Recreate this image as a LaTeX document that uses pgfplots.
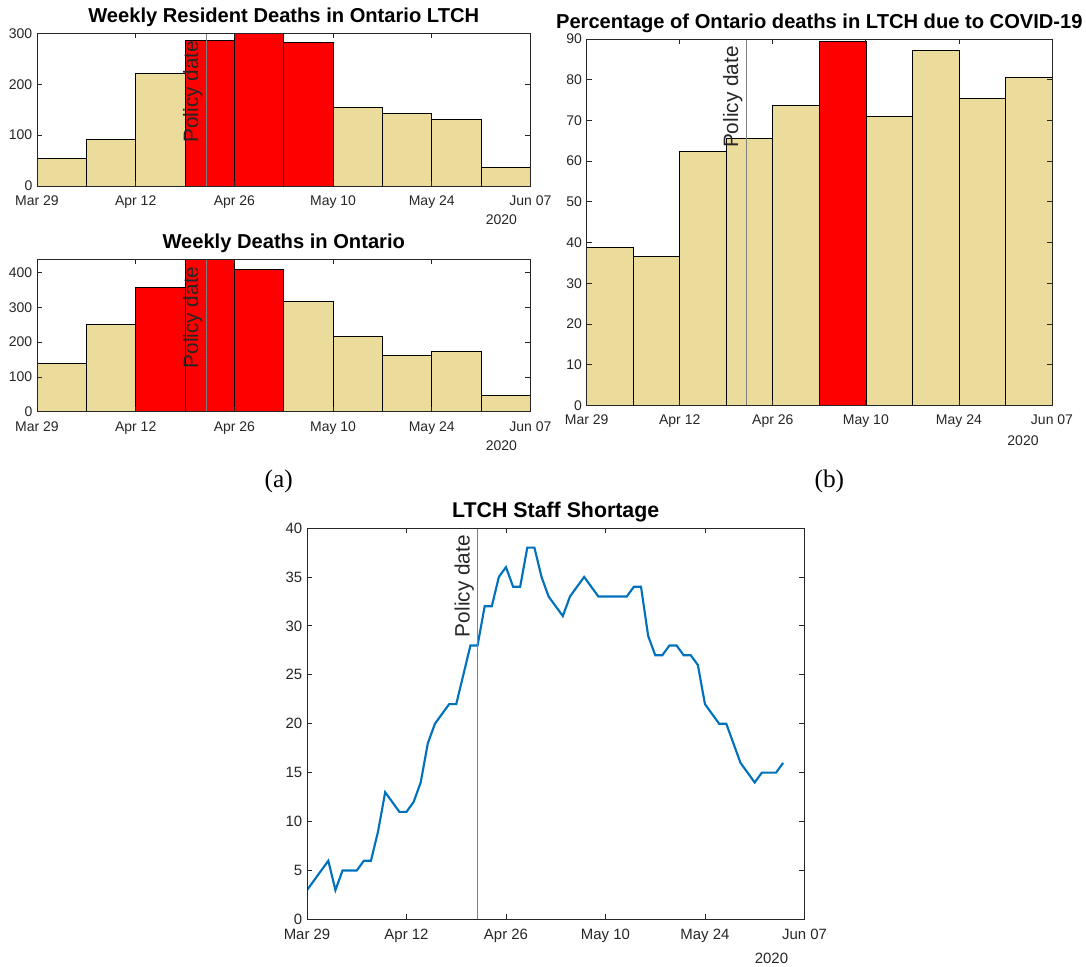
\documentclass[border=0pt]{standalone}
\usepackage{pgfplots}
\pgfplotsset{compat=1.18}
\usepackage{fontspec}
\setmainfont{Liberation Sans}
\newfontfamily\seriffont{Liberation Serif}
\definecolor{tanc}{RGB}{236,220,156}
\definecolor{axc}{RGB}{38,38,38}
\definecolor{mblue}{RGB}{0,114,189}
\definecolor{pgray}{RGB}{128,128,128}
\newcommand{\mybar}[4]{\addplot[fill=#4,draw=black,line width=0.5pt] coordinates {(#1,0) (#1,#3) (#2,#3) (#2,0)} -- cycle;}
\pgfplotsset{
  mstyle/.style={
    scale only axis, axis on top, anchor=south west,
    clip mode=individual,
    xmin=0,xmax=70, ymin=0,
    xtick={0,14,28,42,56,70},
    xticklabels={Mar 29,Apr 12,Apr 26,May 10,May 24,Jun 07},
    tick align=inside,
    major tick length=3.75pt,
    axis line style={axc, line width=0.6pt},
    every tick/.style={axc, line width=0.6pt},
    tick label style={font=\fontsize{10.5}{12}\selectfont, text=axc},
    /pgf/number format/assume math mode=true,
    xticklabel style={yshift=-3.6pt},
    title style={font=\bfseries\fontsize{15.1}{18}\selectfont, at={(0.5,1)}, anchor=base, yshift=2pt},
  },
}
\tikzset{policy/.style={xshift=-6pt, yshift=-5.25pt, font=\fontsize{15.6}{18}\selectfont, text=axc, rotate=90, anchor=base east, inner sep=0pt}}
\begin{document}
\begin{tikzpicture}
\useasboundingbox (0,0) rectangle (814.5pt,-725.25pt);
% ---- (a) upper
\begin{axis}[mstyle, at={(27.75pt,-139.5pt)}, width=370.1pt, height=114.4pt,
  ymax=300, ytick={0,100,200,300},
  title={Weekly Resident Deaths in Ontario LTCH}]
\mybar{0}{7}{54}{tanc}
\mybar{7}{14}{91}{tanc}
\mybar{14}{21}{222}{tanc}
\mybar{21}{28}{287}{red}
\mybar{28}{35}{300}{red}
\mybar{35}{42}{282}{red}
\mybar{42}{49}{154}{tanc}
\mybar{49}{56}{142}{tanc}
\mybar{56}{63}{131}{tanc}
\mybar{63}{70}{37}{tanc}
\addplot[pgray, line width=0.75pt] coordinates {(24,0) (24,300)};
\node[policy] at (axis cs:24,300) {Policy date};
\node[font=\fontsize{10.5}{12}\selectfont, text=axc] at (rel axis cs:1,0) [xshift=-21.75pt, yshift=-25.5pt] {2020};
\end{axis}
% ---- (a) lower
\begin{axis}[mstyle, at={(27.75pt,-308.8pt)}, width=370.1pt, height=114.3pt,
  ymax=438, ytick={0,100,200,300,400},
  title={Weekly Deaths in Ontario}]
\mybar{0}{7}{139}{tanc}
\mybar{7}{14}{251}{tanc}
\mybar{14}{21}{358}{red}
\mybar{21}{28}{438}{red}
\mybar{28}{35}{409}{red}
\mybar{35}{42}{317}{tanc}
\mybar{42}{49}{217}{tanc}
\mybar{49}{56}{163}{tanc}
\mybar{56}{63}{174}{tanc}
\mybar{63}{70}{46}{tanc}
\addplot[pgray, line width=0.75pt] coordinates {(24,0) (24,438)};
\node[policy] at (axis cs:24,438) {Policy date};
\node[font=\fontsize{10.5}{12}\selectfont, text=axc] at (rel axis cs:1,0) [xshift=-21.75pt, yshift=-25.5pt] {2020};
\end{axis}
% ---- (b)
\begin{axis}[mstyle, at={(440pt,-304.1pt)}, width=349pt, height=274.9pt,
  ymax=90, ytick={0,10,...,90},
  title={Percentage of Ontario deaths in LTCH due to COVID-19}]
\mybar{0}{7}{38.9}{tanc}
\mybar{7}{14}{36.5}{tanc}
\mybar{14}{21}{62.3}{tanc}
\mybar{21}{28}{65.6}{tanc}
\mybar{28}{35}{73.6}{tanc}
\mybar{35}{42}{89.4}{red}
\mybar{42}{49}{70.9}{tanc}
\mybar{49}{56}{87.2}{tanc}
\mybar{56}{63}{75.3}{tanc}
\mybar{63}{70}{80.6}{tanc}
\addplot[pgray, line width=0.75pt] coordinates {(24,0) (24,90)};
\node[policy] at (axis cs:24,90) {Policy date};
\node[font=\fontsize{10.5}{12}\selectfont, text=axc] at (rel axis cs:1,0) [xshift=-21.75pt, yshift=-26.25pt] {2020};
\end{axis}
% ---- (c)
\begin{axis}[mstyle, at={(230.25pt,-689.6pt)}, width=373.1pt, height=293.6pt,
  ymax=40, ytick={0,5,...,40},
  tick label style={font=\fontsize{11.2}{13}\selectfont, text=axc},
  title style={font=\bfseries\fontsize{16}{19}\selectfont},
  title={LTCH Staff Shortage}]
\addplot[mblue, line width=1.6pt] coordinates {
(0,3) (1,4) (2,5) (3,6) (4,3) (5,5) (6,5) (7,5) (8,6) (9,6)
(10,9) (11,13) (12,12) (13,11) (14,11) (15,12) (16,14) (17,18) (18,20) (19,21)
(20,22) (21,22) (22,25) (23,28) (24,28) (25,32) (26,32) (27,35) (28,36) (29,34)
(30,34) (31,38) (32,38) (33,35) (34,33) (35,32) (36,31) (37,33) (38,34) (39,35)
(40,34) (41,33) (42,33) (43,33) (44,33) (45,33) (46,34) (47,34) (48,29) (49,27)
(50,27) (51,28) (52,28) (53,27) (54,27) (55,26) (56,22) (57,21) (58,20) (59,20)
(60,18) (61,16) (62,15) (63,14) (64,15) (65,15) (66,15) (67,16)};
\addplot[pgray, line width=0.75pt] coordinates {(24,0) (24,40)};
\node[policy] at (axis cs:24,40) {Policy date};
\node[font=\fontsize{11.2}{13}\selectfont, text=axc] at (rel axis cs:1,0) [xshift=-24.75pt, yshift=-29.25pt] {2020};
\end{axis}
\node[font=\seriffont\fontsize{19}{22}\selectfont] at (209pt,-361.3pt) {(a)};
\node[font=\seriffont\fontsize{19}{22}\selectfont] at (622pt,-361.3pt) {(b)};
\end{tikzpicture}
\end{document}
